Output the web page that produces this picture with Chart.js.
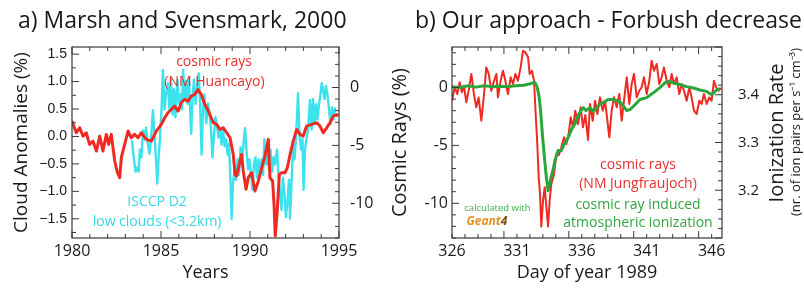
<!DOCTYPE html>
<html>
<head>
<meta charset="utf-8">
<title>Cosmic rays, clouds and a Forbush decrease</title>
<script src="https://cdn.jsdelivr.net/npm/chart.js@4.4.1/dist/chart.umd.min.js"></script>
<style>
  html, body { margin: 0; padding: 0; background: #fff; }
  #wrap { position: relative; width: 804px; height: 289px; overflow: hidden; }
  canvas { position: absolute; top: 0; }
  #chartA { left: 0; }
  #chartB { left: 385px; }
</style>
</head>
<body>
<div id="wrap">
  <canvas id="chartA" width="400" height="289"></canvas>
  <canvas id="chartB" width="419" height="289"></canvas>
</div>
<script>
// ---- panel a: Marsh and Svensmark 2000 ----
const crYears = [1980.00, 1980.24, 1980.43, 1980.62, 1980.80, 1980.99, 1981.18, 1981.37, 1981.56, 1981.74,
  1981.93, 1982.06, 1982.21, 1982.40, 1982.55, 1982.68, 1982.77, 1982.96, 1983.15, 1983.33,
  1983.52, 1983.71, 1983.89, 1984.17, 1984.46, 1984.74, 1985.02, 1985.21, 1985.39, 1985.58,
  1985.77, 1985.96, 1986.14, 1986.33, 1986.52, 1986.70, 1986.89, 1987.08, 1987.26, 1987.42,
  1987.66, 1987.94, 1988.13, 1988.31, 1988.50, 1988.69, 1988.88, 1989.06, 1989.16, 1989.25,
  1989.40, 1989.53, 1989.62, 1989.78, 1989.90, 1990.09, 1990.28, 1990.47, 1990.66, 1990.84,
  1991.03, 1991.12, 1991.27, 1991.35, 1991.42, 1991.53, 1991.65, 1991.78, 1991.97, 1992.10,
  1992.25, 1992.43, 1992.62, 1992.81, 1992.99, 1993.18, 1993.47, 1993.75, 1993.93, 1994.12,
  1994.31, 1994.49, 1994.68, 1994.87, 1994.96];
const crHuancayo = [-2.90, -3.91, -3.48, -4.20, -3.91, -4.91, -4.63, -5.49, -4.20, -5.49,
  -4.05, -4.91, -4.05, -6.35, -7.36, -7.79, -6.06, -4.91, -3.76, -4.34,
  -4.05, -4.34, -3.91, -4.48, -4.63, -3.76, -3.19, -2.61, -2.18, -1.90,
  -1.61, -2.04, -1.32, -1.03, -1.18, -0.75, -0.60, -0.17, -0.60, -1.30,
  -2.04, -3.04, -3.19, -3.62, -3.48, -3.91, -4.34, -5.78, -7.50, -7.64,
  -6.64, -5.78, -7.21, -8.79, -7.79, -7.36, -8.94, -8.07, -6.93, -5.92,
  -4.48, -7.79, -8.07, -10.09, -12.82, -10.66, -7.50, -7.36, -7.36, -6.93,
  -5.78, -4.63, -3.62, -4.05, -4.20, -3.33, -3.19, -3.04, -3.33, -3.91,
  -3.48, -3.04, -2.47, -2.33, -2.47];

const cloudYears = [1983.37, 1983.48, 1983.57, 1983.65, 1983.74, 1983.82, 1983.90, 1983.99, 1984.07, 1984.16,
  1984.24, 1984.35, 1984.44, 1984.55, 1984.63, 1984.72, 1984.79, 1984.86, 1984.94, 1985.03,
  1985.11, 1985.20, 1985.28, 1985.39, 1985.48, 1985.56, 1985.65, 1985.73, 1985.81, 1985.92,
  1986.01, 1986.10, 1986.18, 1986.24, 1986.32, 1986.40, 1986.49, 1986.57, 1986.66, 1986.70,
  1986.77, 1986.85, 1986.94, 1987.02, 1987.12, 1987.19, 1987.28, 1987.36, 1987.44, 1987.54,
  1987.64, 1987.72, 1987.81, 1987.89, 1987.98, 1988.06, 1988.15, 1988.23, 1988.31, 1988.40,
  1988.48, 1988.57, 1988.65, 1988.74, 1988.82, 1988.88, 1988.97, 1989.04, 1989.13, 1989.21,
  1989.30, 1989.38, 1989.47, 1989.55, 1989.63, 1989.72, 1989.80, 1989.89, 1989.97, 1990.06,
  1990.14, 1990.22, 1990.31, 1990.39, 1990.48, 1990.56, 1990.65, 1990.73, 1990.81, 1990.90,
  1990.98, 1991.07, 1991.15, 1991.24, 1991.32, 1991.40, 1991.52, 1991.60, 1991.69, 1991.77,
  1991.85, 1991.94, 1992.02, 1992.11, 1992.19, 1992.25, 1992.33, 1992.42, 1992.50, 1992.58,
  1992.70, 1992.78, 1992.87, 1992.95, 1993.01, 1993.09, 1993.17, 1993.26, 1993.37, 1993.46,
  1993.54, 1993.62, 1993.71, 1993.79, 1993.88, 1993.96, 1994.03, 1994.10, 1994.19, 1994.27,
  1994.35, 1994.44, 1994.52, 1994.61, 1994.69, 1994.78];
const cloudAnom = [-0.07, -0.42, -0.64, -0.57, -0.64, -0.24, -0.38, 0.11, -0.05, 0.16,
  -0.09, -0.31, -0.05, 0.48, 0.04, -0.42, -0.86, -0.42, -0.05, 0.49,
  1.21, 0.49, 0.77, 0.97, 0.49, 1.04, 0.40, 0.86, 0.35, 1.03,
  0.60, 0.77, 0.49, 1.21, 0.68, 1.01, 0.59, 1.04, 0.31, 0.05,
  0.68, 1.04, 0.59, 0.86, 1.15, 0.68, -0.33, 0.49, 0.77, 0.24,
  0.60, 0.44, 0.13, -0.38, 0.04, 0.35, 0.16, -0.02, 0.11, -0.15,
  0.16, -0.18, -0.05, -0.33, -0.13, -0.60, -1.50, -0.88, -0.60, -0.79,
  -0.42, -0.70, -0.20, -0.42, -0.15, 0.15, -0.24, -0.60, -0.42, -0.70,
  -0.97, -0.51, -0.38, -0.75, -0.42, -0.70, -0.42, -0.70, -0.05, -0.51,
  -0.33, -0.60, -0.24, -0.64, -0.38, -0.51, -0.24, -0.70, -1.06, -1.34,
  -0.75, -1.06, -1.47, -1.15, -0.79, -1.50, -0.88, -0.15, -0.42, -0.05,
  0.79, 0.04, -0.24, -0.05, -0.97, -0.24, -0.05, 0.13, 0.66, 0.13,
  0.68, 0.22, 0.59, 0.31, 0.60, 0.77, 0.97, 0.86, 0.68, 0.92,
  0.77, 0.49, 0.22, 0.53, 0.31, 0.53];

const yearTicks = [1980, 1985, 1990, 1995];
const cloudTicks = [-1.5, -1.0, -0.5, 0.0, 0.5, 1.0, 1.5];
const crTicks = [-10, -5, 0];

// ---- panel b: Forbush decrease, Nov/Dec 1989 ----
const jfDays = [326.00, 326.21, 326.41, 326.59, 326.77, 326.92, 327.10, 327.28, 327.49, 327.69,
  327.87, 328.05, 328.26, 328.47, 328.64, 328.83, 329.03, 329.24, 329.42, 329.54,
  329.75, 329.93, 330.11, 330.31, 330.52, 330.70, 330.88, 331.08, 331.29, 331.47,
  331.65, 331.86, 331.98, 332.16, 332.32, 332.42, 332.57, 332.68, 332.78, 332.88,
  333.01, 333.14, 333.29, 333.40, 333.52, 333.65, 333.86, 334.04, 334.24, 334.42,
  334.63, 334.81, 334.99, 335.14, 335.32, 335.50, 335.71, 335.91, 336.09, 336.27,
  336.48, 336.63, 336.84, 337.02, 337.20, 337.40, 337.61, 337.79, 337.97, 338.12,
  338.30, 338.48, 338.69, 338.89, 339.07, 339.25, 339.46, 339.66, 339.84, 340.02,
  340.23, 340.43, 340.61, 340.79, 341.00, 341.20, 341.38, 341.56, 341.77, 341.97,
  342.15, 342.33, 342.54, 342.74, 342.92, 343.10, 343.31, 343.51, 343.69, 343.87,
  344.08, 344.28, 344.46, 344.64, 344.85, 345.05, 345.23, 345.41, 345.62, 345.82,
  346.00, 346.18, 346.34, 346.52, 346.73];
const jfCosmic = [-1.14, 0.02, -0.56, 0.45, -0.41, 0.16, -1.28, -0.28, 1.17, -0.56,
  -1.71, -0.85, -2.87, -0.56, 1.74, 1.17, -0.28, 0.59, 1.17, -0.85,
  0.59, 1.45, 0.59, -0.56, 0.88, 0.30, 1.17, 0.59, 1.74, 3.18,
  3.04, 2.61, 1.17, 1.45, 0.59, -1.71, -4.88, -7.75, -9.20, -12.0,
  -9.78, -8.62, -10.6, -12.0, -9.78, -8.33, -7.47, -5.74, -5.83, -5.16,
  -4.30, -4.88, -4.02, -2.57, -3.44, -2.00, -3.15, -1.71, -3.44, -2.37,
  -4.53, -1.42, -2.87, -1.14, -2.29, -0.85, -2.00, -1.14, -2.87, -4.30,
  -2.00, -0.85, -1.71, -0.56, -2.87, -1.14, 0.88, -1.42, 0.30, 1.17,
  -0.85, -0.28, 0.02, 0.88, -0.56, 0.59, 2.31, 1.45, 2.03, 0.30,
  0.88, 1.74, 0.59, 0.02, 1.17, 0.30, 0.88, -0.56, 0.30, -0.28,
  -1.14, 0.02, -0.85, -2.00, -2.29, -1.14, -1.42, -0.56, -1.42, -0.85,
  -1.14, 0.59, 0.02, -0.28, -0.04];

const ionDays = [326.00, 326.62, 327.23, 327.85, 328.47, 329.08, 329.70, 330.31, 330.93, 331.55,
  332.01, 332.37, 332.55, 332.70, 332.83, 332.97, 333.14, 333.27, 333.40, 333.53,
  333.63, 333.78, 333.94, 334.17, 334.42, 334.63, 334.94, 335.17, 335.45, 335.71,
  335.94, 336.12, 336.32, 336.63, 336.89, 337.17, 337.40, 337.76, 338.02, 338.43,
  338.94, 339.46, 339.71, 340.10, 340.48, 341.00, 341.51, 342.02, 342.41, 342.66,
  343.05, 343.57, 344.08, 344.59, 345.11, 345.62, 346.00, 346.39, 346.65];
const ionRate = [3.417, 3.415, 3.419, 3.416, 3.419, 3.417, 3.418, 3.417, 3.419, 3.420,
  3.423, 3.426, 3.417, 3.398, 3.365, 3.315, 3.263, 3.227, 3.199, 3.213,
  3.227, 3.242, 3.263, 3.283, 3.283, 3.296, 3.310, 3.325, 3.338, 3.356,
  3.367, 3.373, 3.367, 3.373, 3.365, 3.373, 3.381, 3.385, 3.390, 3.390,
  3.385, 3.367, 3.369, 3.379, 3.390, 3.394, 3.404, 3.415, 3.425, 3.428,
  3.425, 3.421, 3.417, 3.414, 3.410, 3.407, 3.400, 3.410, 3.413];

const dayTicks = [326, 331, 336, 341, 346];
const cosmicTicks = [-10, -5, 0];
const ionTicks = [3.2, 3.3, 3.4];

const RED = '#ee2a22';
const CYAN = '#3ce2ee';
const GREEN = '#2ba63a';
const FONT = "'Open Sans', sans-serif";

Chart.defaults.font.family = FONT;
Chart.defaults.color = '#1a1a1a';

function points(xs, ys) {
  return xs.map((x, i) => ({ x, y: ys[i] }));
}

// box round the plot with inward tick marks
const framePlugin = {
  id: 'frame',
  afterDatasetsDraw(chart, args, opts) {
    const { ctx, chartArea: a, scales } = chart;
    ctx.save();
    ctx.strokeStyle = '#3a3a3a';
    ctx.lineWidth = 1.2;
    ctx.strokeRect(a.left, a.top, a.right - a.left, a.bottom - a.top);
    ctx.lineWidth = 1;
    opts.marks.forEach(m => {
      const s = scales[m.axis];
      const n0 = Math.ceil(s.min / m.step - 1e-6);
      const n1 = Math.floor(s.max / m.step + 1e-6);
      for (let n = n0; n <= n1; n++) {
        const v = n * m.step;
        const r = v / m.major;
        const len = Math.abs(r - Math.round(r)) < 1e-6 ? 7 : 4;
        const p = s.getPixelForValue(v);
        ctx.beginPath();
        if (m.axis === 'x') {
          ctx.moveTo(p, a.bottom); ctx.lineTo(p, a.bottom - len);
          ctx.moveTo(p, a.top); ctx.lineTo(p, a.top + len);
        } else if (s.position === 'left') {
          ctx.moveTo(a.left, p); ctx.lineTo(a.left + len, p);
        } else {
          ctx.moveTo(a.right, p); ctx.lineTo(a.right - len, p);
        }
        ctx.stroke();
      }
    });
    ctx.restore();
  }
};

// free text: panel titles, labels inside the plots
const notesPlugin = {
  id: 'notes',
  afterDraw(chart, args, opts) {
    const { ctx, scales } = chart;
    opts.items.forEach(t => {
      let px = t.px, py = t.py;
      if (t.x !== undefined) {
        px = scales.x.getPixelForValue(t.x);
        py = scales[t.axis].getPixelForValue(t.y);
      }
      ctx.save();
      ctx.font = t.font;
      ctx.fillStyle = t.color || '#1a1a1a';
      ctx.textAlign = t.align || 'center';
      ctx.textBaseline = 'middle';
      ctx.translate(px, py);
      if (t.rotate) ctx.rotate(t.rotate);
      ctx.fillText(t.text, 0, 0);
      ctx.restore();
    });
  }
};

function fixedTicks(list) {
  return s => { s.ticks = list.map(v => ({ value: v })); };
}

// ---- chart a ----
new Chart(document.getElementById('chartA'), {
  type: 'line',
  data: {
    datasets: [
      {
        label: 'cosmic rays (NM Huancayo)',
        data: points(crYears, crHuancayo),
        yAxisID: 'y2',
        borderColor: RED,
        borderWidth: 3,
        order: 0
      },
      {
        label: 'ISCCP D2 low clouds',
        data: points(cloudYears, cloudAnom),
        yAxisID: 'y',
        borderColor: CYAN,
        borderWidth: 2.4,
        order: 1
      }
    ]
  },
  options: {
    responsive: false,
    animation: false,
    devicePixelRatio: 1,
    layout: { padding: { top: 47, left: 0, right: 0, bottom: 0 } },
    elements: { point: { radius: 0 }, line: { tension: 0, borderJoinStyle: 'round' } },
    plugins: {
      legend: { display: false },
      tooltip: { enabled: false },
      frame: {
        marks: [
          { axis: 'x', step: 1, major: 5 },
          { axis: 'y', step: 0.25, major: 0.5 },
          { axis: 'y2', step: 1, major: 5 }
        ]
      },
      notes: {
        items: [
          { text: 'a) Marsh and Svensmark, 2000', px: 18, py: 21, align: 'left', font: `23px ${FONT}` },
          { text: 'cosmic rays', x: 1987.98, y: 1.36, axis: 'y', color: '#e5302c', font: `14px ${FONT}` },
          { text: '(NM Huancayo)', x: 1988.0, y: 1.0, axis: 'y', color: '#e5302c', font: `14px ${FONT}` },
          { text: 'ISCCP D2', x: 1984.78, y: -1.20, axis: 'y', color: '#38d8e6', font: `14px ${FONT}` },
          { text: 'low clouds (<3.2km)', x: 1984.78, y: -1.55, axis: 'y', color: '#38d8e6', font: `14px ${FONT}` }
        ]
      }
    },
    scales: {
      x: {
        type: 'linear',
        min: 1980,
        max: 1995,
        grid: { display: false, drawTicks: false },
        border: { display: false },
        afterBuildTicks: fixedTicks(yearTicks),
        afterFit: s => { s.height = 51; },
        ticks: { font: { size: 16 }, padding: 4, maxRotation: 0, autoSkip: false, callback: v => String(v) },
        title: { display: true, text: 'Years', font: { size: 18 }, padding: { top: 0, bottom: 5 } }
      },
      y: {
        position: 'left',
        min: -1.85,
        max: 1.63,
        grid: { display: false, drawTicks: false },
        border: { display: false },
        afterBuildTicks: fixedTicks(cloudTicks),
        afterFit: s => { s.width = 72; },
        ticks: {
          font: { family: "'Liberation Sans', sans-serif", size: 14 },
          padding: 5,
          autoSkip: false,
          callback: v => (v < 0 ? '\u2212' : '') + Math.abs(v).toFixed(1)
        },
        title: { display: true, text: 'Cloud Anomalies (%)', font: { size: 19 }, padding: { top: 10, bottom: 0 } }
      },
      y2: {
        position: 'right',
        min: -13,
        max: 3.5,
        grid: { display: false, drawTicks: false },
        border: { display: false },
        afterBuildTicks: fixedTicks(crTicks),
        afterFit: s => { s.width = 61; },
        ticks: { font: { size: 16 }, padding: 11, autoSkip: false, callback: v => String(v) }
      }
    }
  },
  plugins: [framePlugin, notesPlugin]
});

// ---- chart b ----
new Chart(document.getElementById('chartB'), {
  type: 'line',
  data: {
    datasets: [
      {
        label: 'cosmic ray induced atmospheric ionization',
        data: points(ionDays, ionRate),
        yAxisID: 'y2',
        borderColor: GREEN,
        borderWidth: 3,
        order: 0
      },
      {
        label: 'cosmic rays (NM Jungfraujoch)',
        data: points(jfDays, jfCosmic),
        yAxisID: 'y',
        borderColor: RED,
        borderWidth: 2,
        order: 1
      }
    ]
  },
  options: {
    responsive: false,
    animation: false,
    devicePixelRatio: 1,
    layout: { padding: { top: 47, left: 0, right: 0, bottom: 0 } },
    elements: { point: { radius: 0 }, line: { tension: 0, borderJoinStyle: 'round' } },
    plugins: {
      legend: { display: false },
      tooltip: { enabled: false },
      frame: {
        marks: [
          { axis: 'x', step: 1, major: 5 },
          { axis: 'y', step: 1, major: 5 },
          { axis: 'y2', step: 0.02, major: 0.1 }
        ]
      },
      notes: {
        items: [
          { text: 'b) Our approach - Forbush decrease', px: 30, py: 21, align: 'left', font: `23px ${FONT}` },
          { text: 'cosmic rays', x: 340.33, y: -6.69, axis: 'y', color: '#e5302c', font: `14px ${FONT}` },
          { text: '(NM Jungfraujoch)', x: 340.33, y: -8.33, axis: 'y', color: '#e5302c', font: `14px ${FONT}` },
          { text: 'cosmic ray induced', x: 340.33, y: -10.15, axis: 'y', color: '#33a442', font: `14px ${FONT}` },
          { text: 'atmospheric ionization', x: 340.33, y: -11.70, axis: 'y', color: '#33a442', font: `14px ${FONT}` },
          { text: 'calculated with', x: 329.5, y: -10.41, axis: 'y', color: '#3aae4a', font: `9.5px ${FONT}` },
          { text: 'Geant', x: 329.75, y: -11.61, axis: 'y', align: 'right', color: '#e3901f', font: `italic bold 12px ${FONT}` },
          { text: '4', x: 329.75, y: -11.61, axis: 'y', align: 'left', color: '#7a4a12', font: `italic bold 12px ${FONT}` },
          { text: 'Ionization Rate', px: 392, py: 133, rotate: -Math.PI / 2, font: `20px ${FONT}` },
          { text: '(nr. of ion pairs per s\u207B\u00B9 cm\u207B\u00B3)', px: 411, py: 132, rotate: -Math.PI / 2, font: `13px ${FONT}` }
        ]
      }
    },
    scales: {
      x: {
        type: 'linear',
        min: 326,
        max: 346.8,
        grid: { display: false, drawTicks: false },
        border: { display: false },
        afterBuildTicks: fixedTicks(dayTicks),
        afterFit: s => { s.height = 51; },
        ticks: { font: { size: 16 }, padding: 4, maxRotation: 0, autoSkip: false, callback: v => String(v) },
        title: { display: true, text: 'Day of year 1989', font: { size: 18 }, padding: { top: 0, bottom: 5 } }
      },
      y: {
        position: 'left',
        min: -13,
        max: 3.5,
        grid: { display: false, drawTicks: false },
        border: { display: false },
        afterBuildTicks: fixedTicks(cosmicTicks),
        afterFit: s => { s.width = 67; },
        ticks: { font: { size: 16 }, padding: 4, autoSkip: false, callback: v => String(v) },
        title: { display: true, text: 'Cosmic Rays (%)', font: { size: 20 }, padding: { top: 3, bottom: 0 } }
      },
      y2: {
        position: 'right',
        min: 3.1,
        max: 3.5,
        grid: { display: false, drawTicks: false },
        border: { display: false },
        afterBuildTicks: fixedTicks(ionTicks),
        afterFit: s => { s.width = 82; },
        ticks: { font: { size: 15 }, padding: 16, autoSkip: false, callback: v => v.toFixed(1) }
      }
    }
  },
  plugins: [framePlugin, notesPlugin]
});
</script>
</body>
</html>
